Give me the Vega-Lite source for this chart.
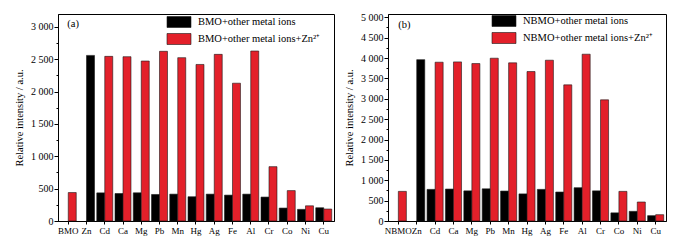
{
  "$schema": "https://vega.github.io/schema/vega-lite/v6.json",
  "background": "white",
  "padding": {"left": 14, "top": 11, "right": 5, "bottom": 5},
  "bounds": "flush",
  "spacing": 54,
  "config": {
    "font": "Liberation Serif",
    "view": {"stroke": "#000000", "strokeWidth": 1},
    "axis": {
      "labelFont": "Liberation Serif", "labelFontSize": 10, "labelColor": "#000",
      "titleFont": "Liberation Serif", "titleFontSize": 10.5, "titleFontWeight": "normal", "titleColor": "#000",
      "domainColor": "#000", "tickColor": "#000", "grid": false
    },
    "legend": {
      "orient": "none", "title": null, "padding": 0,
      "labelFont": "Liberation Serif", "labelFontSize": 10.5, "labelColor": "#000",
      "symbolType": "M-2.18,-1H2.18V1H-2.18Z", "symbolSize": 121,
      "symbolStrokeColor": "#1a1a1a", "symbolStrokeWidth": 0.6, "symbolOpacity": 1,
      "labelOffset": 13, "rowPadding": 3
    }
  },
  "datasets": {
    "a": [
      {"ion": "BMO", "series": "BMO+other metal ions+Zn²⁺", "slot": "with Zn²⁺", "value": 440},
      {"ion": "Zn", "series": "BMO+other metal ions", "slot": "with Zn²⁺", "value": 2560},
      {"ion": "Cd", "series": "BMO+other metal ions", "slot": "without", "value": 435},
      {"ion": "Cd", "series": "BMO+other metal ions+Zn²⁺", "slot": "with Zn²⁺", "value": 2545},
      {"ion": "Ca", "series": "BMO+other metal ions", "slot": "without", "value": 425},
      {"ion": "Ca", "series": "BMO+other metal ions+Zn²⁺", "slot": "with Zn²⁺", "value": 2540},
      {"ion": "Mg", "series": "BMO+other metal ions", "slot": "without", "value": 435},
      {"ion": "Mg", "series": "BMO+other metal ions+Zn²⁺", "slot": "with Zn²⁺", "value": 2473},
      {"ion": "Pb", "series": "BMO+other metal ions", "slot": "without", "value": 410},
      {"ion": "Pb", "series": "BMO+other metal ions+Zn²⁺", "slot": "with Zn²⁺", "value": 2623},
      {"ion": "Mn", "series": "BMO+other metal ions", "slot": "without", "value": 415},
      {"ion": "Mn", "series": "BMO+other metal ions+Zn²⁺", "slot": "with Zn²⁺", "value": 2525},
      {"ion": "Hg", "series": "BMO+other metal ions", "slot": "without", "value": 375},
      {"ion": "Hg", "series": "BMO+other metal ions+Zn²⁺", "slot": "with Zn²⁺", "value": 2420},
      {"ion": "Ag", "series": "BMO+other metal ions", "slot": "without", "value": 415},
      {"ion": "Ag", "series": "BMO+other metal ions+Zn²⁺", "slot": "with Zn²⁺", "value": 2576},
      {"ion": "Fe", "series": "BMO+other metal ions", "slot": "without", "value": 400},
      {"ion": "Fe", "series": "BMO+other metal ions+Zn²⁺", "slot": "with Zn²⁺", "value": 2130},
      {"ion": "Al", "series": "BMO+other metal ions", "slot": "without", "value": 415},
      {"ion": "Al", "series": "BMO+other metal ions+Zn²⁺", "slot": "with Zn²⁺", "value": 2628},
      {"ion": "Cr", "series": "BMO+other metal ions", "slot": "without", "value": 370},
      {"ion": "Cr", "series": "BMO+other metal ions+Zn²⁺", "slot": "with Zn²⁺", "value": 840},
      {"ion": "Co", "series": "BMO+other metal ions", "slot": "without", "value": 200},
      {"ion": "Co", "series": "BMO+other metal ions+Zn²⁺", "slot": "with Zn²⁺", "value": 470},
      {"ion": "Ni", "series": "BMO+other metal ions", "slot": "without", "value": 180},
      {"ion": "Ni", "series": "BMO+other metal ions+Zn²⁺", "slot": "with Zn²⁺", "value": 235},
      {"ion": "Cu", "series": "BMO+other metal ions", "slot": "without", "value": 205},
      {"ion": "Cu", "series": "BMO+other metal ions+Zn²⁺", "slot": "with Zn²⁺", "value": 185}
    ],
    "b": [
      {"ion": "NBMO", "series": "NBMO+other metal ions+Zn²⁺", "slot": "with Zn²⁺", "value": 727},
      {"ion": "Zn", "series": "NBMO+other metal ions", "slot": "with Zn²⁺", "value": 3960},
      {"ion": "Cd", "series": "NBMO+other metal ions", "slot": "without", "value": 776},
      {"ion": "Cd", "series": "NBMO+other metal ions+Zn²⁺", "slot": "with Zn²⁺", "value": 3897},
      {"ion": "Ca", "series": "NBMO+other metal ions", "slot": "without", "value": 784},
      {"ion": "Ca", "series": "NBMO+other metal ions+Zn²⁺", "slot": "with Zn²⁺", "value": 3905},
      {"ion": "Mg", "series": "NBMO+other metal ions", "slot": "without", "value": 740},
      {"ion": "Mg", "series": "NBMO+other metal ions+Zn²⁺", "slot": "with Zn²⁺", "value": 3864},
      {"ion": "Pb", "series": "NBMO+other metal ions", "slot": "without", "value": 790},
      {"ion": "Pb", "series": "NBMO+other metal ions+Zn²⁺", "slot": "with Zn²⁺", "value": 3995},
      {"ion": "Mn", "series": "NBMO+other metal ions", "slot": "without", "value": 735},
      {"ion": "Mn", "series": "NBMO+other metal ions+Zn²⁺", "slot": "with Zn²⁺", "value": 3881},
      {"ion": "Hg", "series": "NBMO+other metal ions", "slot": "without", "value": 665},
      {"ion": "Hg", "series": "NBMO+other metal ions+Zn²⁺", "slot": "with Zn²⁺", "value": 3668},
      {"ion": "Ag", "series": "NBMO+other metal ions", "slot": "without", "value": 776},
      {"ion": "Ag", "series": "NBMO+other metal ions+Zn²⁺", "slot": "with Zn²⁺", "value": 3946},
      {"ion": "Fe", "series": "NBMO+other metal ions", "slot": "without", "value": 711},
      {"ion": "Fe", "series": "NBMO+other metal ions+Zn²⁺", "slot": "with Zn²⁺", "value": 3341},
      {"ion": "Al", "series": "NBMO+other metal ions", "slot": "without", "value": 817},
      {"ion": "Al", "series": "NBMO+other metal ions+Zn²⁺", "slot": "with Zn²⁺", "value": 4093},
      {"ion": "Cr", "series": "NBMO+other metal ions", "slot": "without", "value": 740},
      {"ion": "Cr", "series": "NBMO+other metal ions+Zn²⁺", "slot": "with Zn²⁺", "value": 2974},
      {"ion": "Co", "series": "NBMO+other metal ions", "slot": "without", "value": 200},
      {"ion": "Co", "series": "NBMO+other metal ions+Zn²⁺", "slot": "with Zn²⁺", "value": 727},
      {"ion": "Ni", "series": "NBMO+other metal ions", "slot": "without", "value": 237},
      {"ion": "Ni", "series": "NBMO+other metal ions+Zn²⁺", "slot": "with Zn²⁺", "value": 466},
      {"ion": "Cu", "series": "NBMO+other metal ions", "slot": "without", "value": 131},
      {"ion": "Cu", "series": "NBMO+other metal ions+Zn²⁺", "slot": "with Zn²⁺", "value": 155}
    ]
  },
  "hconcat": [
    {
      "width": 276,
      "height": 207,
      "layer": [
        {
          "data": {"name": "a"},
          "mark": {"type": "bar", "stroke": "#1a1a1a", "strokeWidth": 0.6},
          "encoding": {
            "x": {
              "field": "ion", "type": "nominal",
              "sort": ["BMO", "Zn", "Cd", "Ca", "Mg", "Pb", "Mn", "Hg", "Ag", "Fe", "Al", "Cr", "Co", "Ni", "Cu"],
              "scale": {"paddingInner": 0.125, "paddingOuter": 0.125},
              "axis": {"title": null, "labelAngle": 0, "labelFontSize": 9, "tickSize": 3, "labelPadding": 2, "labelOverlap": false, "labelBound": false, "orient": "bottom"}
            },
            "xOffset": {
              "field": "slot", "type": "nominal", "sort": ["without", "with Zn²⁺"],
              "scale": {"paddingInner": 0, "paddingOuter": 0}
            },
            "y": {
              "field": "value", "type": "quantitative",
              "scale": {"domain": [0, 3200], "nice": false},
              "axis": {
                "title": "Relative intensity / a.u.", "orient": "left",
                "values": [0, 250, 500, 750, 1000, 1250, 1500, 1750, 2000, 2250, 2500, 2750, 3000],
                "labelExpr": "datum.value % 500 === 0 ? replace(format(datum.value, ',d'), ',', ' ') : ''",
                "tickSize": {"condition": {"test": "datum.value % 500 === 0", "value": 4}, "value": 2},
                "labelOverlap": false, "labelBound": false,
                "labelPadding": 1, "titlePadding": 6
              }
            },
            "color": {
              "field": "series", "type": "nominal",
              "scale": {"domain": ["BMO+other metal ions", "BMO+other metal ions+Zn²⁺"], "range": ["#000000", "#e3202a"]},
              "legend": {"legendX": 115, "legendY": 2}
            }
          }
        },
        {
          "data": {"values": [{"panel": "(a)"}]},
          "mark": {"type": "text", "align": "left", "baseline": "middle", "fontSize": 10.5, "font": "Liberation Serif", "color": "#000", "dx": -1},
          "encoding": {
            "x": {"datum": "BMO", "type": "nominal", "axis": null},
            "y": {"datum": 3040, "type": "quantitative", "axis": null},
            "text": {"field": "panel"}
          }
        }
      ],
      "resolve": {"axis": {"x": "independent", "y": "independent"}}
    },
    {
      "width": 278,
      "height": 207,
      "layer": [
        {
          "data": {"name": "b"},
          "mark": {"type": "bar", "stroke": "#1a1a1a", "strokeWidth": 0.6},
          "encoding": {
            "x": {
              "field": "ion", "type": "nominal",
              "sort": ["NBMO", "Zn", "Cd", "Ca", "Mg", "Pb", "Mn", "Hg", "Ag", "Fe", "Al", "Cr", "Co", "Ni", "Cu"],
              "scale": {"paddingInner": 0.125, "paddingOuter": 0.125},
              "axis": {"title": null, "labelAngle": 0, "labelFontSize": 9, "tickSize": 3, "labelPadding": 2, "labelOverlap": false, "labelBound": false, "orient": "bottom"}
            },
            "xOffset": {
              "field": "slot", "type": "nominal", "sort": ["without", "with Zn²⁺"],
              "scale": {"paddingInner": 0, "paddingOuter": 0}
            },
            "y": {
              "field": "value", "type": "quantitative",
              "scale": {"domain": [0, 5080], "nice": false},
              "axis": {
                "title": "Relative intensity / a.u.", "orient": "left",
                "values": [0, 250, 500, 750, 1000, 1250, 1500, 1750, 2000, 2250, 2500, 2750, 3000, 3250, 3500, 3750, 4000, 4250, 4500, 4750, 5000],
                "labelExpr": "datum.value % 500 === 0 ? replace(format(datum.value, ',d'), ',', ' ') : ''",
                "tickSize": {"condition": {"test": "datum.value % 500 === 0", "value": 4}, "value": 2},
                "labelOverlap": false, "labelBound": false,
                "labelPadding": 1, "titlePadding": 6
              }
            },
            "color": {
              "field": "series", "type": "nominal",
              "scale": {"domain": ["NBMO+other metal ions", "NBMO+other metal ions+Zn²⁺"], "range": ["#000000", "#e3202a"]},
              "legend": {"legendX": 110, "legendY": 1}
            }
          }
        },
        {
          "data": {"values": [{"panel": "(b)"}]},
          "mark": {"type": "text", "align": "left", "baseline": "middle", "fontSize": 10.5, "font": "Liberation Serif", "color": "#000", "dx": 0},
          "encoding": {
            "x": {"datum": "NBMO", "type": "nominal", "axis": null},
            "y": {"datum": 4800, "type": "quantitative", "axis": null},
            "text": {"field": "panel"}
          }
        }
      ],
      "resolve": {"axis": {"x": "independent", "y": "independent"}}
    }
  ],
  "resolve": {
    "scale": {"x": "independent", "y": "independent", "xOffset": "independent", "color": "independent"},
    "legend": {"color": "independent"}
  }
}
